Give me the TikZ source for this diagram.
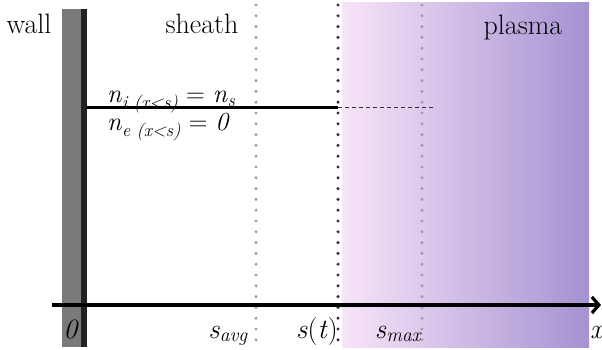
\documentclass[tikz,border=0pt]{standalone}
\usepackage{fontspec}
\usetikzlibrary{positioning,arrows.meta}
\definecolor{wallgray}{RGB}{122,122,122}
\definecolor{walldark}{RGB}{34,34,34}
\definecolor{plasmaL}{RGB}{248,228,248}
\definecolor{plasmaM}{RGB}{218,190,232}
\definecolor{plasmaR}{RGB}{164,146,210}
\definecolor{dotgray}{RGB}{160,160,160}
\definecolor{dotdark}{RGB}{50,50,50}
\newcommand{\isub}[1]{\textsubscript{\itshape #1}}

\begin{document}
\begin{tikzpicture}[x=1pt, y=-1pt,
    lbl/.style={inner sep=0pt, font=\fontsize{28}{33}\selectfont},
    eqn/.style={lbl, anchor=base west, font=\fontsize{26}{31}\selectfont},
    dotline/.style={line width=3.4pt, line cap=round, dash pattern=on 0pt off 10.8pt}]
    \useasboundingbox (0,0) rectangle (602,350);
    % plasma and wall
    \shade[left color=plasmaL, middle color=plasmaM, right color=plasmaR] (342,3) rectangle (589,347);
    \fill[wallgray] (62,9) rectangle (81,347);
    \fill[walldark] (81,9) rectangle (87,347);

    \coordinate (savg) at (256,5);
    \coordinate (st) at (338,5);
    \coordinate (smax) at (422,5);
    \draw[dotline, dotgray] (savg) -- ++(0,338);
    \draw[dotline, dotgray] (smax) -- ++(0,338);
    \draw[dotline, dotdark] (st) -- ++(0,338);

    % density step
    \coordinate (w) at (87,108);
    \coordinate (sd) at (st |- w);
    \coordinate (dend) at (434,108);
    \draw[line width=3pt] (w) -- (sd);
    \draw[dash pattern=on 4pt off 3pt, dotdark, line width=1pt] (sd) -- (dend);

    % axis
    \coordinate (o) at (52,305);
    \coordinate (xend) at (601,305);
    \draw[line width=3.2pt, -{Straight Barb[length=7pt, width=16pt]}] (o) -- (xend);

    \node[lbl] (wall) at (29,24) {wall};
    \node[lbl] (sheath) at (202,24) {sheath};
    \node[lbl] (plasma) at (523,28) {plasma};
    \node[eqn] (ni) at (107,103) {\textit{n}\isub{i (x<s)} = \textit{n}\isub{s}};
    \node[eqn] (ne) at (107,131) {\textit{n}\isub{e (x<s)} = \textit{0}};

    \node[lbl, anchor=base] (zero) at (71,338) {\textit{0}};
    \node[lbl, anchor=base] (lavg) at (228,338) {\textit{s}\isub{avg}};
    \node[lbl, anchor=base] (lt) at (317,338) {\textit{s}(\textit{t})};
    \node[lbl, anchor=base] (lmax) at (398,338) {\textit{s}\isub{max}};
    \node[lbl, anchor=base west] (lx) at (590,338) {\textit{x}};
\end{tikzpicture}
\end{document}
